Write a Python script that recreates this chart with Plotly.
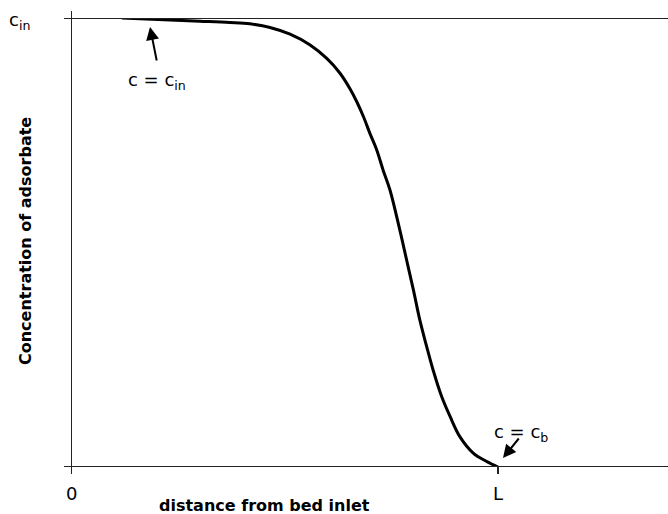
import plotly.graph_objects as go

# Concentration profile along the bed (x in units of L, y in units of c_in)
x_vals = [0.119, 0.302, 0.372, 0.419, 0.466, 0.513, 0.560, 0.599, 0.630, 0.653,
          0.669, 0.685, 0.700, 0.716, 0.731, 0.747, 0.770, 0.786, 0.802, 0.817,
          0.833, 0.848, 0.868, 0.888, 0.911, 0.942, 0.974, 1.0]
y_vals = [1.0, 0.993, 0.990, 0.987, 0.979, 0.964, 0.940, 0.910, 0.877, 0.843,
          0.814, 0.780, 0.743, 0.706, 0.661, 0.617, 0.528, 0.461, 0.394, 0.327,
          0.268, 0.216, 0.157, 0.112, 0.067, 0.031, 0.012, 0.0]
x_tick_vals = [0, 1]
x_tick_text = ["0", "L"]
y_label_top = "c<sub>in</sub>"

W, H = 668, 514
ML, MR, MT, MB = 71, 0, 18, 47
XL = 498 - ML  # pixels per unit L
XMAX = (W - ML) / XL
pw = W - ML - MR
ph = H - MT - MB

FONT = "DejaVu Sans"
LINEC = "#222222"

fig = go.Figure()
fig.add_trace(go.Scatter(
    x=x_vals, y=y_vals, mode="lines",
    line=dict(color="black", width=3, shape="spline", smoothing=1.0),
    cliponaxis=False, hoverinfo="skip", showlegend=False))

ext_x = 7 / pw
ext_y = 7 / ph
shapes = [
    dict(type="line", xref="paper", yref="y", x0=-ext_x, x1=1, y0=0, y1=0,
         line=dict(color=LINEC, width=2)),
    dict(type="line", xref="paper", yref="y", x0=-ext_x, x1=1, y0=1, y1=1,
         line=dict(color=LINEC, width=2)),
    dict(type="line", xref="x", yref="paper", x0=0, x1=0, y0=-ext_y, y1=1 + ext_y,
         line=dict(color=LINEC, width=2)),
    dict(type="line", xref="x", yref="paper", x0=1, x1=1, y0=-ext_y, y1=0,
         line=dict(color=LINEC, width=2)),
]


def py(pix):
    return (H - MB - pix) / ph


ann = []
for xv, tt in zip(x_tick_vals, x_tick_text):
    ann.append(dict(x=xv, y=py(493), xref="x", yref="paper", text=tt, showarrow=False,
                    font=dict(family=FONT, size=18, color="black"),
                    xanchor="center", yanchor="middle"))
ann.append(dict(x=(19 - ML) / pw, y=py(21), xref="paper", yref="paper", text=y_label_top,
                showarrow=False, font=dict(family=FONT, size=18, color="black"),
                xanchor="center", yanchor="middle"))
ann.append(dict(x=(264 - ML) / pw, y=py(505), xref="paper", yref="paper",
                text="<b>distance from bed inlet</b>", showarrow=False,
                font=dict(family=FONT, size=16, color="black"),
                xanchor="center", yanchor="middle"))
ann.append(dict(x=(26 - ML) / pw, y=py(241), xref="paper", yref="paper",
                text="<b>Concentration of adsorbate</b>", showarrow=False, textangle=-90,
                font=dict(family=FONT, size=16, color="black"),
                xanchor="center", yanchor="middle"))
ann.append(dict(x=(157 - ML) / XL, y=py(81), xref="x", yref="paper",
                text="c = c<sub>in</sub>", showarrow=False,
                font=dict(family=FONT, size=18, color="black"),
                xanchor="center", yanchor="middle"))
ann.append(dict(x=(150 - ML) / XL, y=(467 - 27) / 449, xref="x", yref="y",
                text="", showarrow=True, ax=7, ay=35, arrowhead=2, arrowsize=1.3,
                arrowwidth=2, arrowcolor="black"))
ann.append(dict(x=(521 - ML) / XL, y=py(433), xref="x", yref="paper",
                text="c = c<sub>b</sub>", showarrow=False,
                font=dict(family=FONT, size=18, color="black"),
                xanchor="center", yanchor="middle"))
ann.append(dict(x=(503 - ML) / XL, y=(467 - 458) / 449, xref="x", yref="y",
                text="", showarrow=True, ax=17, ay=-21, arrowhead=2, arrowsize=1.3,
                arrowwidth=2, arrowcolor="black"))

fig.update_layout(
    width=W, height=H,
    margin=dict(l=ML, r=MR, t=MT, b=MB, pad=0),
    paper_bgcolor="white", plot_bgcolor="white",
    xaxis=dict(range=[0, XMAX], showline=False, showgrid=False, zeroline=False,
               showticklabels=False, ticks="", fixedrange=True),
    yaxis=dict(range=[0, 1], showline=False, showgrid=False, zeroline=False,
               showticklabels=False, ticks="", fixedrange=True),
    shapes=shapes, annotations=ann, showlegend=False,
)

fig.write_html("out.html", config={"displayModeBar": False},
               post_script="document.body.style.margin='0';")
